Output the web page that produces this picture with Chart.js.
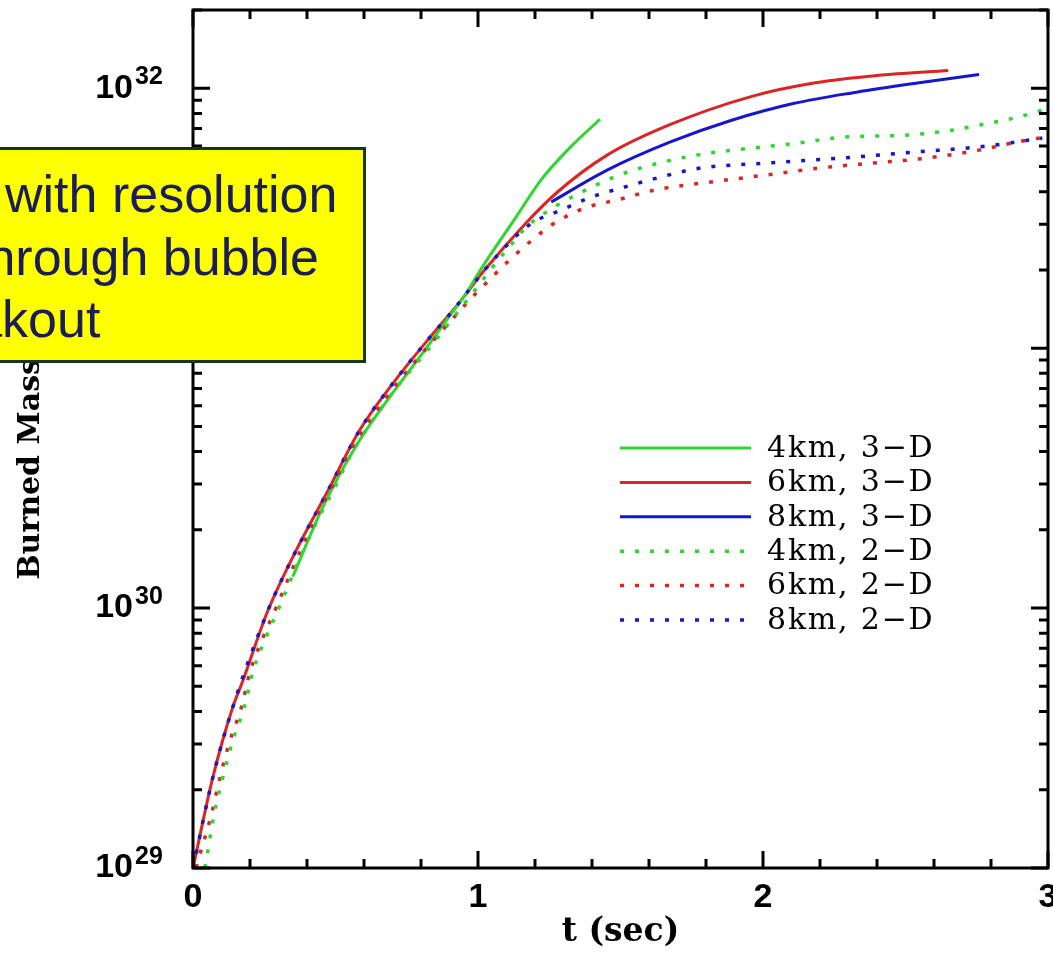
<!DOCTYPE html>
<html>
<head>
<meta charset="utf-8">
<script src="https://cdn.jsdelivr.net/npm/chart.js@4.4.1/dist/chart.umd.min.js"></script>
<style>
  html, body { margin: 0; padding: 0; background: #fff; }
  #wrap { position: relative; width: 1053px; height: 954px; overflow: hidden; }
  #note {
    position: absolute; left: -6px; top: 147px; width: 372px; height: 216px;
    box-sizing: border-box; background: #ffff00; border: 3px solid #173517;
    overflow: hidden; z-index: 2;
    font-family: 'Liberation Sans', Arial, sans-serif; font-size: 52px; line-height: 52px;
    color: #1b1d57;
  }
  #note span { position: absolute; white-space: nowrap; }
</style>
</head>
<body>
<div id="wrap">
  <canvas id="chart"></canvas>
  <div id="note">
    <span style="left:8px; top:18px">with resolution</span>
    <span style="left:-25px; top:81px">through bubble</span>
    <span style="left:-99px; top:143px">breakout</span>
  </div>
</div>
<script>
// time (s) and burned mass (g)
const t4km3d = [0.35, 0.455, 0.585, 0.70, 0.795, 0.889, 0.959, 1.015, 1.134, 1.222, 1.32, 1.428];
const m4km3d = [1.32e30, 2.44e30, 4.43e30, 6.71e30, 9.23e30, 1.28e31, 1.63e31, 2.05e31, 3.20e31, 4.45e31, 5.87e31, 7.60e31];

const t6km3d = [0, 0.07, 0.14, 0.175, 0.259, 0.35, 0.469, 0.585, 0.70, 0.819, 0.935, 1.015, 1.162, 1.278, 1.453, 1.673, 1.964, 2.184, 2.401, 2.65];
const m6km3d = [1.00e29, 2.24e29, 4.17e29, 5.25e29, 9.55e29, 1.57e30, 2.77e30, 4.84e30, 7.29e30, 1.06e31, 1.50e31, 1.95e31, 2.98e31, 3.98e31, 5.53e31, 7.24e31, 9.33e31, 1.05e32, 1.12e32, 1.17e32];

const t8km3d = [1.257, 1.453, 1.673, 1.89, 2.11, 2.328, 2.548, 2.758];
const m8km3d = [3.65e31, 4.84e31, 6.20e31, 7.53e31, 8.75e31, 9.66e31, 1.05e32, 1.13e32];

const t4km2d = [0.042, 0.075, 0.105, 0.14, 0.18, 0.21, 0.255, 0.308, 0.357, 0.437, 0.497, 0.553, 0.619, 0.735, 0.815, 0.896, 0.987, 1.057, 1.117, 1.169, 1.222, 1.278, 1.39, 1.505, 1.628, 1.754, 1.876, 2.009, 2.13, 2.265, 2.51, 2.643, 2.765, 2.898, 2.993];
const m4km2d = [1.00e29, 1.63e29, 2.24e29, 3.10e29, 4.16e29, 5.68e29, 7.67e29, 1.04e30, 1.40e30, 2.18e30, 2.90e30, 3.87e30, 5.06e30, 7.53e30, 9.57e30, 1.24e31, 1.66e31, 2.09e31, 2.51e31, 2.92e31, 3.24e31, 3.55e31, 4.12e31, 4.68e31, 5.13e31, 5.50e31, 5.75e31, 5.96e31, 6.17e31, 6.46e31, 6.61e31, 6.84e31, 7.24e31, 7.76e31, 8.32e31];

const t6km2d = [0.01, 0.066, 0.095, 0.13, 0.17, 0.20, 0.245, 0.298, 0.347, 0.427, 0.487, 0.543, 0.609, 0.725, 0.805, 0.889, 0.977, 1.015, 1.11, 1.257, 1.372, 1.498, 1.62, 1.81, 2.00, 2.19, 2.38, 2.57, 2.758, 2.884, 2.99];
const m6km2d = [1.00e29, 1.63e29, 2.24e29, 3.10e29, 4.16e29, 5.68e29, 7.67e29, 1.04e30, 1.40e30, 2.18e30, 2.90e30, 3.87e30, 5.06e30, 7.53e30, 9.57e30, 1.22e31, 1.56e31, 1.72e31, 2.18e31, 2.97e31, 3.45e31, 3.74e31, 4.06e31, 4.35e31, 4.62e31, 4.92e31, 5.15e31, 5.38e31, 5.78e31, 6.19e31, 6.49e31];

const t8km2d = [0, 0.07, 0.14, 0.259, 0.35, 0.469, 0.585, 0.70, 0.819, 0.935, 1.015, 1.10, 1.162, 1.22, 1.278, 1.397, 1.512, 1.64, 1.775, 2.01, 2.27, 2.53, 2.78, 2.98];
const m8km2d = [1.00e29, 2.24e29, 4.17e29, 9.55e29, 1.57e30, 2.77e30, 4.84e30, 7.29e30, 1.06e31, 1.50e31, 1.95e31, 2.48e31, 2.88e31, 3.16e31, 3.35e31, 3.81e31, 4.16e31, 4.55e31, 4.92e31, 5.15e31, 5.38e31, 5.68e31, 5.98e31, 6.43e31];

const labels = ['4km, 3\u2212D', '6km, 3\u2212D', '8km, 3\u2212D', '4km, 2\u2212D', '6km, 2\u2212D', '8km, 2\u2212D'];
const xTicks = [0, 1, 2, 3];
const yTicks = [1e29, 1e30, 1e31, 1e32];

const green = '#2fd62f';
const red = '#dc2424';
const blue = '#1616cc';
const dots = [4, 11];
const tickFont = "'Liberation Sans Narrow', 'Liberation Sans', sans-serif";

const pts = (t, m) => t.map((x, i) => ({ x, y: m[i] }));

function line(label, t, m, color, dashed, order) {
  return {
    label,
    data: pts(t, m),
    borderColor: color,
    borderWidth: dashed ? 3.5 : 3,
    borderDash: dashed ? dots : [],
    pointRadius: 0,
    cubicInterpolationMode: 'monotone',
    fill: false,
    order,
  };
}

// box round the plot with inward ticks on all four sides
const frame = {
  id: 'frame',
  afterDraw(chart) {
    const { ctx, chartArea: a, scales: { x, y } } = chart;
    ctx.save();
    ctx.strokeStyle = '#000';
    ctx.lineWidth = 3;
    ctx.setLineDash([]);
    ctx.strokeRect(a.left, a.top, a.right - a.left, a.bottom - a.top);
    ctx.beginPath();
    for (let i = 0; i <= 15; i++) {
      const px = x.getPixelForValue(i / 5);
      const len = i % 5 === 0 ? 17 : 9;
      ctx.moveTo(px, a.bottom); ctx.lineTo(px, a.bottom - len);
      ctx.moveTo(px, a.top); ctx.lineTo(px, a.top + len);
    }
    for (let d = 29; d <= 32; d++) {
      for (let k = 1; k <= 9; k++) {
        const v = k * Math.pow(10, d);
        if (v > y.max) break;
        const py = y.getPixelForValue(v);
        const len = k === 1 ? 17 : 9;
        ctx.moveTo(a.left, py); ctx.lineTo(a.left + len, py);
        ctx.moveTo(a.right, py); ctx.lineTo(a.right - len, py);
      }
    }
    ctx.stroke();

    // exponents next to the "10" tick labels
    ctx.fillStyle = '#000';
    ctx.font = 'bold 25px ' + tickFont;
    ctx.textAlign = 'left';
    ctx.textBaseline = 'alphabetic';
    y.ticks.forEach((t) => {
      const py = y.getPixelForValue(t.value);
      ctx.fillText(String(Math.round(Math.log10(t.value))), 135, py - 4);
    });
    ctx.restore();
  }
};

const legendBox = {
  id: 'legendBox',
  afterDraw(chart) {
    const ctx = chart.ctx;
    ctx.save();
    ctx.font = '30px "DejaVu Serif"';
    ctx.letterSpacing = '1.8px';
    ctx.textBaseline = 'middle';
    chart.data.datasets.forEach((ds, i) => {
      const yy = 448 + i * 34.4;
      ctx.strokeStyle = ds.borderColor;
      ctx.lineWidth = ds.borderWidth;
      ctx.setLineDash(ds.borderDash);
      ctx.beginPath();
      ctx.moveTo(620, yy);
      ctx.lineTo(751, yy);
      ctx.stroke();
      ctx.setLineDash([]);
      ctx.fillStyle = '#000';
      ctx.fillText(ds.label, 767, yy + 1);
    });
    ctx.restore();
  }
};

new Chart(document.getElementById('chart'), {
  type: 'line',
  data: {
    datasets: [
      line(labels[0], t4km3d, m4km3d, green, false, 1),
      line(labels[1], t6km3d, m6km3d, red, false, 1),
      line(labels[2], t8km3d, m8km3d, blue, false, 1),
      line(labels[3], t4km2d, m4km2d, green, true, 0),
      line(labels[4], t6km2d, m6km2d, red, true, 0),
      line(labels[5], t8km2d, m8km2d, blue, true, 0),
    ],
  },
  options: {
    responsive: true,
    maintainAspectRatio: false,
    animation: false,
    layout: { padding: { top: 10, right: 5, left: 0, bottom: 0 } },
    plugins: {
      legend: { display: false },
      tooltip: { enabled: false },
    },
    scales: {
      x: {
        type: 'linear',
        min: 0,
        max: 3,
        grid: { display: false },
        border: { display: false },
        afterBuildTicks: (s) => { s.ticks = xTicks.map((v) => ({ value: v })); },
        afterFit: (s) => { s.height = 86; s.paddingLeft = 0; s.paddingRight = 0; },
        ticks: {
          autoSkip: false,
          maxRotation: 0,
          padding: 1,
          color: '#000',
          font: { family: tickFont, weight: 'bold', size: 34 },
          callback: (v) => String(v),
        },
        title: {
          display: true,
          text: 't (sec)',
          color: '#000',
          font: { family: 'DejaVu Serif', weight: 'bold', size: 33 },
          padding: { top: 0, bottom: 2 },
        },
      },
      y: {
        type: 'logarithmic',
        min: 1e29,
        max: 2e32,
        grid: { display: false },
        border: { display: false },
        afterBuildTicks: (s) => { s.ticks = yTicks.map((v) => ({ value: v })); },
        afterFit: (s) => { s.width = 193; s.paddingTop = 0; s.paddingBottom = 0; },
        ticks: {
          autoSkip: false,
          padding: 52,
          color: '#000',
          font: { family: tickFont, weight: 'bold', size: 34 },
          callback: () => '10',
        },
        title: {
          display: true,
          text: 'Burned Mass (g)',
          color: '#000',
          font: { family: 'DejaVu Serif', weight: 'bold', size: 30 },
          padding: { top: 13, bottom: 0 },
        },
      },
    },
  },
  plugins: [frame, legendBox],
});
</script>
</body>
</html>
